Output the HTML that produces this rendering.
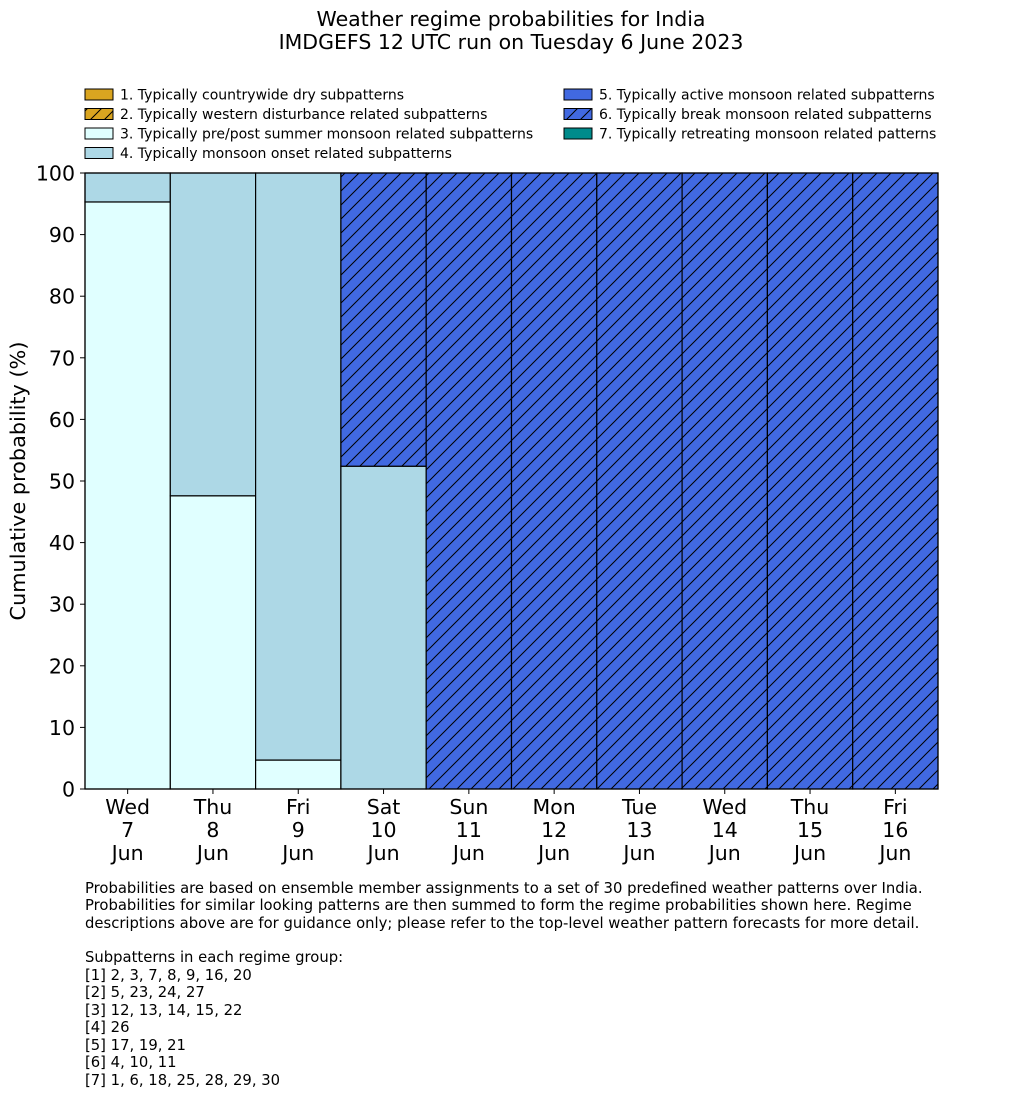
<!DOCTYPE html>
<html><head><meta charset="utf-8"><style>
body{margin:0;background:#fff;}
svg text{font-family:"DejaVu Sans","Liberation Sans",sans-serif;fill:#000;}
</style></head><body>
<svg id="chart" width="1033" height="1114" xmlns="http://www.w3.org/2000/svg">
<defs>
<pattern id="hatch" patternUnits="userSpaceOnUse" width="14" height="14">
<rect width="14" height="14" fill="#4169e1"/>
<path d="M-1,15 L15,-1 M-8,8 L8,-8 M6,22 L22,6" stroke="#000" stroke-width="1"/>
</pattern>
<pattern id="hatch2" patternUnits="userSpaceOnUse" width="14" height="14">
<rect width="14" height="14" fill="#daa520"/>
<path d="M-1,15 L15,-1 M-8,8 L8,-8 M6,22 L22,6" stroke="#000" stroke-width="1"/>
</pattern>
</defs>
<text x="511" y="26" font-size="20.5" text-anchor="middle">Weather regime probabilities for India</text>
<text x="511" y="49" font-size="20.5" text-anchor="middle">IMDGEFS 12 UTC run on Tuesday 6 June 2023</text>
<g id="legend"></g>
<g id="bars"></g>
<g id="axes"></g>
<text transform="translate(25,481) rotate(-90)" font-size="20.8" text-anchor="middle">Cumulative probability (%)</text>
<g font-size="14.8">
<text x="85" y="893">Probabilities are based on ensemble member assignments to a set of 30 predefined weather patterns over India.</text>
<text x="85" y="910">Probabilities for similar looking patterns are then summed to form the regime probabilities shown here. Regime</text>
<text x="85" y="928">descriptions above are for guidance only; please refer to the top-level weather pattern forecasts for more detail.</text>
<text x="85" y="962">Subpatterns in each regime group:</text>
<text x="85" y="980">[1] 2, 3, 7, 8, 9, 16, 20</text>
<text x="85" y="997">[2] 5, 23, 24, 27</text>
<text x="85" y="1015">[3] 12, 13, 14, 15, 22</text>
<text x="85" y="1032">[4] 26</text>
<text x="85" y="1050">[5] 17, 19, 21</text>
<text x="85" y="1067">[6] 4, 10, 11</text>
<text x="85" y="1085">[7] 1, 6, 18, 25, 28, 29, 30</text>
</g>
</svg>
<script>
const days = ["Wed","Thu","Fri","Sat","Sun","Mon","Tue","Wed","Thu","Fri"];
const dates = ["7","8","9","10","11","12","13","14","15","16"];
const r1 = [0,0,0,0,0,0,0,0,0,0];
const r2 = [0,0,0,0,0,0,0,0,0,0];
const r3 = [95.3,47.6,4.7,0,0,0,0,0,0,0];
const r4 = [4.7,52.4,95.3,52.4,0,0,0,0,0,0];
const r5 = [0,0,0,0,0,0,0,0,0,0];
const r6 = [0,0,0,47.6,100,100,100,100,100,100];
const r7 = [0,0,0,0,0,0,0,0,0,0];
const yTicks = [0,10,20,30,40,50,60,70,80,90,100];
const legendLabels = ["1. Typically countrywide dry subpatterns","2. Typically western disturbance related subpatterns","3. Typically pre/post summer monsoon related subpatterns","4. Typically monsoon onset related subpatterns","5. Typically active monsoon related subpatterns","6. Typically break monsoon related subpatterns","7. Typically retreating monsoon related patterns"];

const NS="http://www.w3.org/2000/svg";
const X0=85,X1=938,Y0=789,Y1=173;
const bw=(X1-X0)/days.length;
const xs=i=>X0+i*bw;
const ys=v=>Y0-(v/100)*(Y0-Y1);
const fills=["#daa520","url(#hatch2)","#e0ffff","#add8e6","#4169e1","url(#hatch)","#008b8b"];
const series=[r1,r2,r3,r4,r5,r6,r7];
function mk(tag,attrs,parent){const e=document.createElementNS(NS,tag);for(const k in attrs)e.setAttribute(k,attrs[k]);parent.appendChild(e);return e;}
const bars=document.getElementById('bars');
for(let i=0;i<days.length;i++){
  let cum=0;
  for(let s=0;s<series.length;s++){
    const v=series[s][i]; if(v<=0) continue;
    const r=mk('rect',{x:xs(i),y:ys(cum+v),width:bw,height:ys(cum)-ys(cum+v),fill:fills[s],stroke:'#000','stroke-width':1.2},bars);
    
    
    cum+=v;
  }
}
const axes=document.getElementById('axes');
mk('rect',{x:X0,y:Y1,width:X1-X0,height:Y0-Y1,fill:'none',stroke:'#000','stroke-width':1.2},axes);
yTicks.forEach(t=>{
  mk('line',{x1:X0-5,x2:X0,y1:ys(t),y2:ys(t),stroke:'#000'},axes);
  const tx=mk('text',{x:X0-10,y:ys(t)+7.5,'font-size':20.5,'text-anchor':'end'},axes);
  tx.textContent=t;
  
  
});
days.forEach((d,i)=>{
  const cx=xs(i)+bw/2;
  mk('line',{x1:cx,x2:cx,y1:Y0,y2:Y0+5,stroke:'#000'},axes);
  [d,dates[i],"Jun"].forEach((s,k)=>{
    const tx=mk('text',{x:cx,y:814+k*23,'font-size':20.5,'text-anchor':'middle'},axes);
    tx.textContent=s;
    
    
  });
});
const lg=document.getElementById('legend');
legendLabels.forEach((l,k)=>{
  const col=k<4?0:1,row=k<4?k:k-4;
  const x=col?564:85,y=89+row*19.5;
  const r=mk('rect',{x:x,y:y,width:28,height:11,fill:fills[k],stroke:'#000','stroke-width':1},lg);
  
  
  const t=mk('text',{x:x+35,y:y+10.5,'font-size':14},lg);
  t.textContent=l;
  
  
});
</script>
</body></html>
